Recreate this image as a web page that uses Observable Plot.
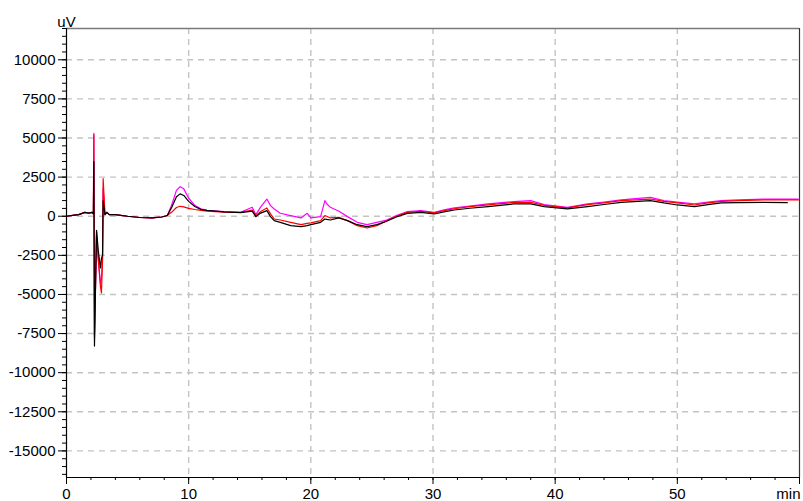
<!DOCTYPE html>
<html>
<head>
<meta charset="utf-8">
<script src="https://cdn.jsdelivr.net/npm/d3@7"></script>
<script src="https://cdn.jsdelivr.net/npm/@observablehq/plot@0.6"></script>
<style>
  html, body { margin: 0; padding: 0; background: #fff; }
  #chart { width: 803px; height: 501px; }
</style>
</head>
<body>
<div id="chart"></div>
<script>
// ---- data ----
const times = [0, 0.5, 1.0, 1.5, 1.8, 2.1, 2.2, 2.24, 2.29, 2.46, 2.6, 2.78, 2.86, 2.95, 3.0, 3.15, 3.3, 3.5,
  4, 5, 6, 7, 7.8, 8.25, 8.6, 9.0, 9.3, 9.6, 10.0, 10.5, 11.0, 11.5, 12.9, 14.25, 15.2, 15.5, 15.9, 16.4, 16.7, 17.0, 17.5,
  18.35, 19.2, 19.7, 20.0, 20.8, 21.15, 21.3, 21.6, 22.3, 23.0, 23.8, 24.6, 25.4, 26.2, 27.0, 27.9, 29.0, 30.1,
  31.0, 31.75, 33, 34.5, 36.6, 38.0, 39.1, 41.0, 42.65, 44, 45.4, 47.8, 48.9, 50, 51.4, 52.5, 53.6, 55, 57.1, 59.0, 59.9];

const magenta = [0, 50, 100, 250, 200, 250, 150, 5300, -7600, -1200, -2800, -4300, -4000, -2600, 1800, 100, 250, 100,
  100, 0, -80, -100, -50, 50, 700, 1650, 1890, 1750, 1150, 700, 480, 380, 290, 250, 570, 100, 600, 1100, 680, 465, 190,
  40, -110, 190, -110, -25, 1000, 800, 570, 315, -25, -390, -540, -390, -250, 50, 295, 360, 250,
  420, 530, 650, 785, 935, 1000, 740, 570, 785, 900, 1040, 1210, 1000, 900, 785, 900, 1000, 1050, 1100, 1100, 1100];

const red = [0, 50, 100, 250, 200, 250, 150, 5200, -7800, -1000, -2700, -4500, -4900, -2800, 2400, 100, 250, 100,
  100, 0, -80, -100, -50, 50, 250, 560, 635, 600, 500, 430, 370, 330, 260, 250, 400, 40, 300, 530, 150, -175, -240,
  -390, -540, -455, -420, -280, 40, 0, -110, -70, -280, -600, -750, -600, -300, 0, 250, 320, 210,
  380, 480, 610, 730, 880, 890, 700, 530, 740, 850, 1000, 1100, 950, 850, 720, 850, 950, 1000, 1040, 1040, 1040];

const black = [0, 50, 100, 250, 200, 250, 150, 3500, -8300, -900, -2200, -3300, -2700, -2500, 1000, 100, 250, 100,
  100, 0, -80, -100, -50, 50, 550, 1250, 1430, 1330, 950, 620, 440, 370, 280, 230, 330, -25, 200, 360, -25, -280, -390,
  -600, -665, -600, -540, -390, -175, -200, -240, -110, -280, -540, -665, -540, -320, -50, 185, 250, 145,
  300, 400, 510, 615, 785, 785, 615, 465, 615, 750, 890, 1000, 850, 720, 615, 740, 850, 870, 890, 870, null];

const seriesNames = ["magenta", "red", "black"];
const seriesColors = ["#ff00ff", "#ff0000", "#000000"];

const xMajorTicks = [0, 10, 20, 30, 40, 50, 60];
const xMinorTicks = d3.range(0, 61, 2);
const xGridTicks = [10, 20, 30, 40, 50];
const yMajorTicks = [-15000, -12500, -10000, -7500, -5000, -2500, 0, 2500, 5000, 7500, 10000];
const yMinorTicks = d3.range(-16500, 12001, 500);
const xUnitLabel = "min";
const yUnitLabel = "uV";

// ---- build table ----
const valuesBySeries = {magenta, red, black};
const rows = [];
seriesNames.forEach(name => {
  valuesBySeries[name].forEach((v, i) => {
    rows.push({series: name, t: times[i], v});
  });
});

const plot = Plot.plot({
  width: 803,
  height: 501,
  marginLeft: 66,
  marginRight: 4,
  marginTop: 28,
  marginBottom: 24,
  style: {fontFamily: "'Liberation Sans', Arial, sans-serif", fontSize: "15px", color: "#000", background: "#fff"},
  x: {domain: [0, 60], label: null},
  y: {domain: [-16700, 12000], label: null},
  color: {domain: seriesNames, range: seriesColors},
  marks: [
    Plot.gridX(xGridTicks, {stroke: "#c4c4c4", strokeOpacity: 1, strokeWidth: 1.4, strokeDasharray: "6,5"}),
    Plot.gridY(yMajorTicks, {stroke: "#c4c4c4", strokeOpacity: 1, strokeWidth: 1.4, strokeDasharray: "6,5"}),
    Plot.ruleY([12000], {stroke: "#7a7a7a", strokeWidth: 1.5}),
    Plot.ruleX([60], {stroke: "#333", strokeWidth: 1.2}),
    Plot.lineY(rows, {x: "t", y: "v", z: "series", stroke: "series", strokeWidth: 1.2, defined: d => d.v != null}),
    Plot.ruleX([0], {stroke: "#000", strokeWidth: 1.2}),
    Plot.ruleY([-16700], {stroke: "#000", strokeWidth: 1.2}),
    Plot.axisX(xMinorTicks, {tickSize: 3, tickFormat: () => "", label: null}),
    Plot.axisX(xMajorTicks, {tickSize: 7, tickPadding: 4, tickFormat: d => d === 60 ? "" : String(d), label: null}),
    Plot.axisY(yMinorTicks, {tickSize: 4, tickFormat: () => "", label: null}),
    Plot.axisY(yMajorTicks, {tickSize: 8, tickPadding: 3, tickFormat: d => String(d), label: null}),
    Plot.text([xUnitLabel], {x: 60, frameAnchor: "bottom", textAnchor: "end", lineAnchor: "top", dy: 11, dx: 1, fontSize: 15}),
    Plot.text([yUnitLabel], {frameAnchor: "top-left", textAnchor: "middle", lineAnchor: "bottom", dy: -2, dx: 0, fontSize: 15})
  ]
});
document.getElementById("chart").appendChild(plot);
</script>
</body>
</html>
